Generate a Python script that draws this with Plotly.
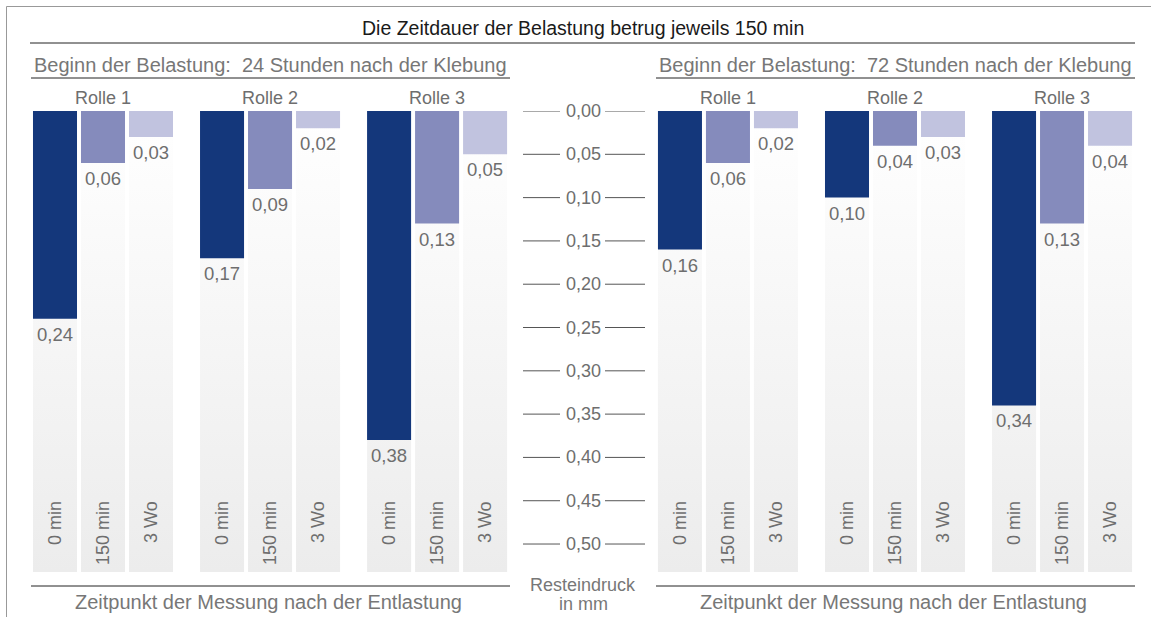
import plotly.graph_objects as go

# ---------------- data ----------------
title_text = "Die Zeitdauer der Belastung betrug jeweils 150 min"
panel_titles = ["Beginn der Belastung:&nbsp; 24 Stunden nach der Klebung",
                "Beginn der Belastung:&nbsp; 72 Stunden nach der Klebung"]
groups = ["Rolle 1", "Rolle 2", "Rolle 3"]
times = ["0 min", "150 min", "3 Wo"]
vals_24h = [[0.24, 0.06, 0.03],
            [0.17, 0.09, 0.02],
            [0.38, 0.13, 0.05]]
vals_72h = [[0.16, 0.06, 0.02],
            [0.10, 0.04, 0.03],
            [0.34, 0.13, 0.04]]
tick_vals = [0.00, 0.05, 0.10, 0.15, 0.20, 0.25, 0.30, 0.35, 0.40, 0.45, 0.50]
x_title = "Zeitpunkt der Messung nach der Entlastung"
y_title_lines = ["Resteindruck", "in mm"]

# ---------------- style ----------------
W, H = 1151, 617
PLOT_TOP, PLOT_BOT = 111, 572
Y_MAX = 0.5323
colors = ["#14377B", "#858BBC", "#C1C3DF"]
GRAY_TXT = "#6E6E6E"
FONT = "Liberation Sans"
UNIT = 48.0          # px per bar step
X0_PX = 55.0         # pixel centre of first bar
GROUP_STEP = 3.48
PANEL_OFFSET = 13.02
BAR_W = 0.917

def px_x(px):
    return px / W

def px_y(py):
    return (PLOT_BOT - py) / (PLOT_BOT - PLOT_TOP)

fig = go.Figure()
annotations = []
shapes = []

panels = [vals_24h, vals_72h]
for p, pvals in enumerate(panels):
    for g, gvals in enumerate(pvals):
        xs = [p * PANEL_OFFSET + g * GROUP_STEP + i for i in range(len(times))]
        # background gradient columns (bottom layer)
        for x in xs:
            l, r = x - BAR_W / 2, x + BAR_W / 2
            fig.add_trace(go.Scatter(
                x=[l, r, r, l, l], y=[0, 0, Y_MAX, Y_MAX, 0],
                mode="lines", line=dict(width=0), fill="toself",
                fillgradient=dict(type="vertical", start=0, stop=Y_MAX,
                                  colorscale=[[0, "#FFFFFF"], [1, "#ECECEC"]]),
                hoverinfo="skip", showlegend=False, xaxis="x", yaxis="y"))
        for i, (x, v) in enumerate(zip(xs, gvals)):
            fig.add_trace(go.Bar(x=[x], y=[v], base=0, width=BAR_W,
                                 marker=dict(color=colors[i], line=dict(width=0)),
                                 showlegend=False, hoverinfo="skip",
                                 xaxis="x2", yaxis="y2"))
            annotations.append(dict(x=x, y=v, xref="x", yref="y",
                                    text=f"{v:.2f}".replace(".", ","),
                                    showarrow=False, xanchor="center", yanchor="top", yshift=-3,
                                    font=dict(family=FONT, size=18.5, color=GRAY_TXT)))
            annotations.append(dict(x=x, y=0.448, xref="x", yref="y",
                                    text=times[i], textangle=-90,
                                    showarrow=False, xanchor="center", yanchor="top",
                                    font=dict(family=FONT, size=18, color=GRAY_TXT)))
        annotations.append(dict(x=xs[1], y=0, xref="x", yref="y", text=groups[g],
                                showarrow=False, xanchor="center", yanchor="bottom", yshift=1,
                                font=dict(family=FONT, size=18, color=GRAY_TXT)))

# y tick labels in the middle
for t in tick_vals:
    annotations.append(dict(x=px_x(583), y=t, xref="paper", yref="y",
                            text=f"{t:.2f}".replace(".", ","), showarrow=False,
                            xanchor="center", yanchor="middle",
                            font=dict(family=FONT, size=18, color=GRAY_TXT)))
    for a, b in [(523, 560), (605, 645)]:
        shapes.append(dict(type="line", xref="paper", yref="y",
                           x0=px_x(a), x1=px_x(b), y0=t, y1=t,
                           line=dict(color="#555555", width=1)))

# titles
def label(px, py, text, size, color, xanchor="center"):
    annotations.append(dict(x=px_x(px), y=px_y(py), xref="paper", yref="paper",
                            text=text, showarrow=False, xanchor=xanchor, yanchor="middle",
                            borderpad=0,
                            font=dict(family=FONT, size=size, color=color)))

label(583, 28, title_text, 19.5, "#1A1A1A")
for p, left in enumerate([33, 658]):
    label(left, 65, panel_titles[p], 20, "#777777", xanchor="left")
    label(left + 235, 602, x_title, 20, "#777777")
label(583, 585, y_title_lines[0], 18, "#777777")
label(583, 604, y_title_lines[1], 18, "#777777")

# decorative lines
def hline(x0, x1, y, color="#222222", width=1):
    shapes.append(dict(type="line", xref="paper", yref="paper",
                       x0=px_x(x0), x1=px_x(x1), y0=px_y(y), y1=px_y(y),
                       line=dict(color=color, width=width)))

hline(6.5, W, 6.5, color="#999999")
shapes.append(dict(type="line", xref="paper", yref="paper",
                   x0=px_x(6.5), x1=px_x(6.5), y0=px_y(6.5), y1=px_y(H),
                   line=dict(color="#999999", width=1)))
hline(30, 1135, 43)
hline(31, 510, 78)
hline(656, 1135, 78)
hline(31, 510, 586)
hline(656, 1135, 586)

x_range = [(0 - X0_PX) / UNIT, (W - X0_PX) / UNIT]
fig.update_layout(
    width=W, height=H,
    margin=dict(l=0, r=0, t=PLOT_TOP, b=H - PLOT_BOT, pad=0),
    paper_bgcolor="white", plot_bgcolor="rgba(0,0,0,0)",
    barmode="overlay",
    xaxis=dict(range=x_range, visible=False, fixedrange=True),
    yaxis=dict(range=[Y_MAX, 0], visible=False, fixedrange=True),
    xaxis2=dict(range=x_range, visible=False, fixedrange=True, overlaying="x"),
    yaxis2=dict(range=[Y_MAX, 0], visible=False, fixedrange=True, overlaying="y"),
    annotations=annotations, shapes=shapes, showlegend=False,
)
fig.write_html("out.html", config={"displayModeBar": False},
               post_script="document.body.style.margin='0px';")
